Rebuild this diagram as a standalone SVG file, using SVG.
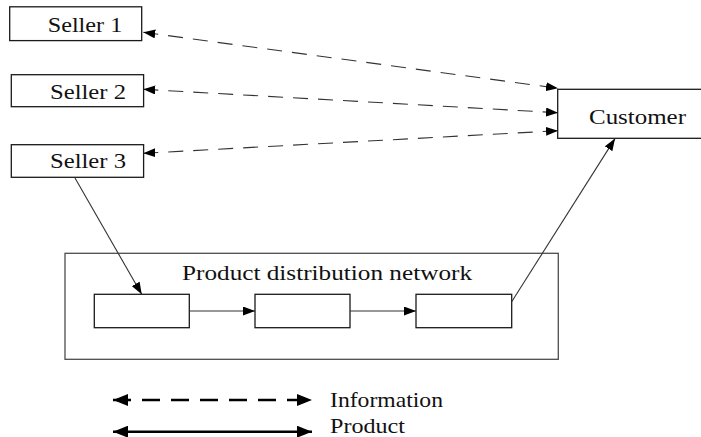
<svg xmlns="http://www.w3.org/2000/svg" width="701" height="437" viewBox="0 0 701 437">
  <defs>
    <style>
      .box { fill: #fff; stroke: #1a1a1a; stroke-width: 1.3; }
      .frame { fill: none; stroke: #4d4d4d; stroke-width: 1.3; }
      .lbl { font-family: 'Liberation Serif', Tinos, 'Times New Roman', Times, serif; font-size: 22px; fill: #111; }
      .info { fill: none; stroke: #333; stroke-width: 1.1; stroke-dasharray: 15 10; }
      .flow { fill: none; stroke: #333; stroke-width: 1.1; }
      .key-info { fill: none; stroke: #000; stroke-width: 2.6; stroke-dasharray: 18 11; }
      .key-flow { fill: none; stroke: #000; stroke-width: 2.6; }
    </style>
    <marker id="tip" markerUnits="userSpaceOnUse" viewBox="0 0 12 9" refX="12" refY="4.5" markerWidth="12" markerHeight="9" orient="auto-start-reverse">
      <path d="M0,0 L12,4.5 L0,9 Z" fill="#000"/>
    </marker>
    <marker id="keytip" markerUnits="userSpaceOnUse" viewBox="0 0 15 12" refX="15" refY="6" markerWidth="15" markerHeight="12" orient="auto-start-reverse">
      <path d="M0,0 L15,6 L0,12 Z" fill="#000"/>
    </marker>
  </defs>

  <!-- sellers -->
  <g id="seller1">
    <rect class="box" x="9.7" y="6.8" width="132" height="33.8"/>
    <text class="lbl" x="47.7" y="31.7" textLength="74.6" lengthAdjust="spacingAndGlyphs">Seller 1</text>
  </g>
  <g id="seller2">
    <rect class="box" x="11.3" y="74.7" width="132.3" height="32"/>
    <text class="lbl" x="50" y="99.3" textLength="76" lengthAdjust="spacingAndGlyphs">Seller 2</text>
  </g>
  <g id="seller3">
    <rect class="box" x="11.3" y="144.7" width="132.3" height="32.6"/>
    <text class="lbl" x="50" y="168.3" textLength="76" lengthAdjust="spacingAndGlyphs">Seller 3</text>
  </g>

  <!-- customer -->
  <g id="customer">
    <rect class="box" x="557.7" y="89.3" width="145" height="49"/>
    <text class="lbl" x="589" y="123.5" textLength="97" lengthAdjust="spacingAndGlyphs">Customer</text>
  </g>

  <!-- distribution network -->
  <g id="network">
    <rect class="frame" x="65" y="253.3" width="493.3" height="106"/>
    <text class="lbl" x="182" y="280" textLength="290" lengthAdjust="spacingAndGlyphs">Product distribution network</text>
  </g>
  <g id="stage1">
    <rect class="box" x="94.3" y="294.3" width="95" height="33.4"/>
  </g>
  <g id="stage2">
    <rect class="box" x="255" y="294.3" width="95" height="33.4"/>
  </g>
  <g id="stage3">
    <rect class="box" x="416" y="294.3" width="95.7" height="33.4"/>
  </g>

  <!-- connectors -->
  <g id="connectors">
    <line class="info" x1="143.3" y1="32.3" x2="558" y2="88.3" marker-start="url(#tip)" marker-end="url(#tip)"/>
    <line class="info" x1="143.3" y1="89.3" x2="558" y2="112.7" marker-start="url(#tip)" marker-end="url(#tip)"/>
    <line class="info" x1="143.3" y1="153.3" x2="558" y2="130.7" marker-start="url(#tip)" marker-end="url(#tip)"/>
    <line class="flow" x1="75" y1="178" x2="141.7" y2="294.3" marker-end="url(#tip)"/>
    <line class="flow" x1="189.3" y1="311" x2="255" y2="311" marker-end="url(#tip)"/>
    <line class="flow" x1="350" y1="311" x2="416" y2="311" marker-end="url(#tip)"/>
    <line class="flow" x1="511.7" y1="301.7" x2="615" y2="138.6" marker-end="url(#tip)"/>
  </g>

  <!-- legend -->
  <g id="legend">
    <line class="key-info" x1="113" y1="400" x2="312" y2="400" marker-start="url(#keytip)" marker-end="url(#keytip)"/>
    <line class="key-flow" x1="113" y1="431.7" x2="312" y2="431.7" marker-start="url(#keytip)" marker-end="url(#keytip)"/>
    <text class="lbl" x="330" y="407.3" textLength="113" lengthAdjust="spacingAndGlyphs">Information</text>
    <text class="lbl" x="330" y="432.5" textLength="75" lengthAdjust="spacingAndGlyphs">Product</text>
  </g>
</svg>
